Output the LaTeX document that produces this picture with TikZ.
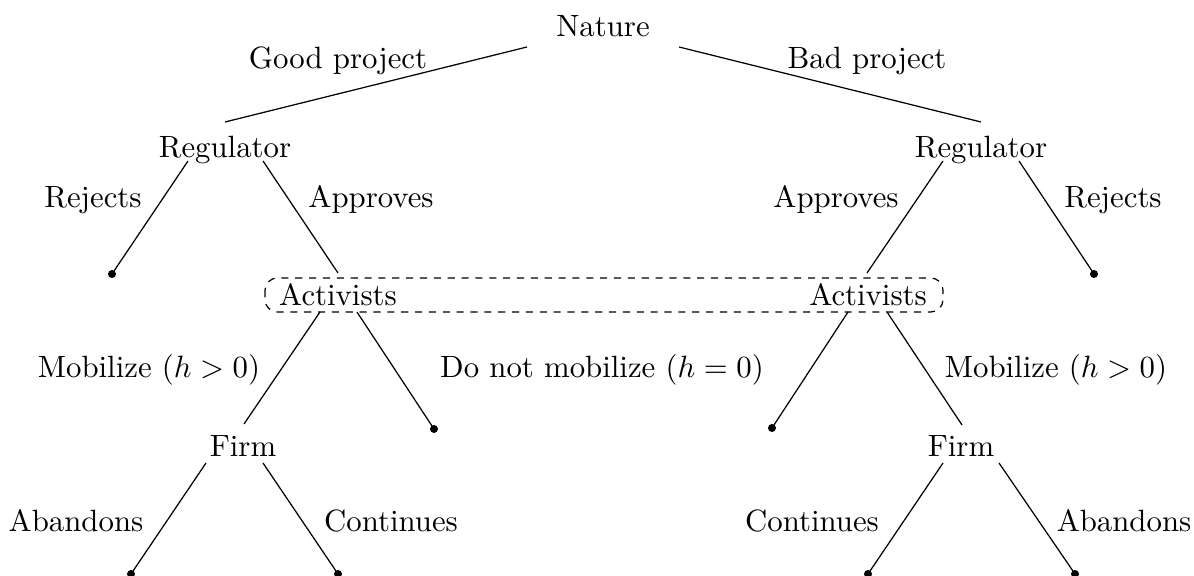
\documentclass[tikz,border=0pt]{standalone}
\usetikzlibrary{calc}
\begin{document}
\begin{tikzpicture}[x=0.3247pt,y=-0.3247pt,
  lbl/.style={inner sep=0pt,text height=6.9pt,text depth=0pt,anchor=center},
  dotn/.style={circle,fill=black,inner sep=0pt,minimum size=2.6pt},
  br/.style={line width=0.4pt},
  infoset/.style={dash pattern=on 2.3pt off 2.2pt,rounded corners=4pt,line width=0.4pt}]
\useasboundingbox (0,0) rectangle (1194,576);
% decision nodes
\node[lbl] (nat) at (603,26) {Nature};
\node[lbl] (regL) at (225,147) {Regulator};
\node[lbl] (regR) at (981,147) {Regulator};
\node[lbl] (actL) at (338,295) {Activists};
\node[lbl] (actR) at (868,295) {Activists};
\node[lbl] (firmL) at (243,446) {Firm};
\node[lbl] (firmR) at (961,446) {Firm};
% terminal nodes
\node[dotn] (dL1) at (112,274) {};
\node[dotn] (dR1) at (1094,274) {};
\node[dotn] (dL2) at (434,429) {};
\node[dotn] (dR2) at (772,428) {};
\node[dotn] (dL3) at (131,574) {};
\node[dotn] (dL4) at (338,574) {};
\node[dotn] (dR3) at (868,574) {};
\node[dotn] (dR4) at (1075,574) {};
% branch labels
\node[lbl] (good) at (338,58) {Good project};
\node[lbl] (bad) at (867,58) {Bad project};
\node[lbl] (rejL) at (93,197) {Rejects};
\node[lbl] (appL) at (371,197) {Approves};
\node[lbl] (appR) at (836,197) {Approves};
\node[lbl] (rejR) at (1113,197) {Rejects};
\node[lbl] (mobL) at (149,367) {Mobilize ($h>0$)};
\node[lbl] (dnm) at (602,367) {Do not mobilize ($h=0$)};
\node[lbl] (mobR) at (1056,367) {Mobilize ($h>0$)};
\node[lbl] (abL) at (76,521) {Abandons};
\node[lbl] (conL) at (391,521) {Continues};
\node[lbl] (conR) at (812,521) {Continues};
\node[lbl] (abR) at (1124,521) {Abandons};
% branches
\draw[br] ([shift={(-76,21)}]nat.center) -- ([shift={(0,-25)}]regL.center);
\draw[br] ([shift={(76,21)}]nat.center) -- ([shift={(0,-25)}]regR.center);
\draw[br] ([shift={(-37,14)}]regL.center) -- (dL1.center);
\draw[br] ([shift={(38,14)}]regL.center) -- ([shift={(0,-22)}]actL.center);
\draw[br] ([shift={(-38,14)}]regR.center) -- ([shift={(-1,-22)}]actR.center);
\draw[br] ([shift={(38,14)}]regR.center) -- (dR1.center);
\draw[br] ([shift={(-18,17)}]actL.center) -- ([shift={(1,-22)}]firmL.center);
\draw[br] ([shift={(19,17)}]actL.center) -- (dL2.center);
\draw[br] ([shift={(-20,17)}]actR.center) -- (dR2.center);
\draw[br] ([shift={(19,17)}]actR.center) -- ([shift={(1,-21)}]firmR.center);
\draw[br] ([shift={(-37,17)}]firmL.center) -- (dL3.center);
\draw[br] ([shift={(20,17)}]firmL.center) -- (dL4.center);
\draw[br] ([shift={(-18,17)}]firmR.center) -- (dR3.center);
\draw[br] ([shift={(38,17)}]firmR.center) -- (dR4.center);
% information set
\draw[infoset] ([shift={(-73,-17)}]actL.center) rectangle ([shift={(75,17)}]actR.center);
\end{tikzpicture}
\end{document}
